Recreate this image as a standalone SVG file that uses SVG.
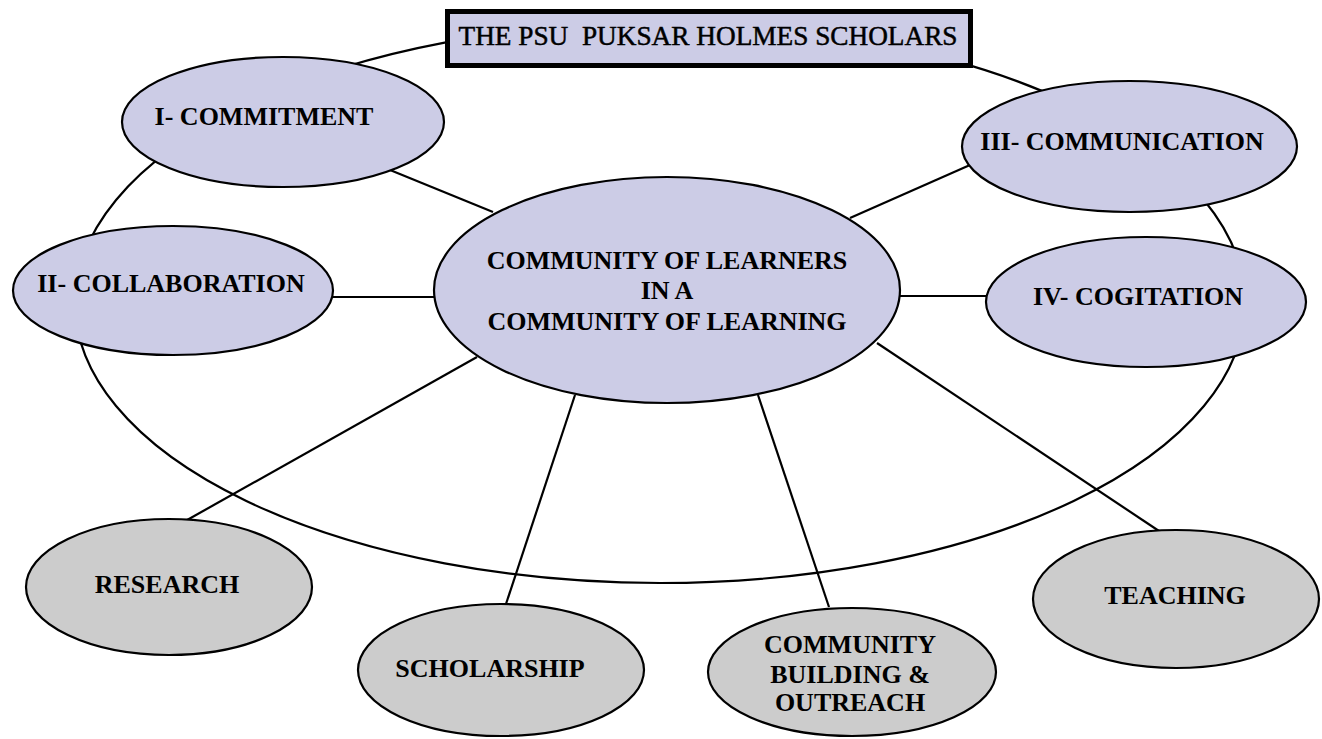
<svg xmlns="http://www.w3.org/2000/svg" width="1322" height="739" viewBox="0 0 1322 739">
<style>
  .lav { fill: #cccce6; stroke: #000; stroke-width: 2.2; }
  .gry { fill: #cccccc; stroke: #000; stroke-width: 2.2; }
  .lbl { font-family: "Liberation Serif", "Times New Roman", serif; font-weight: bold; font-size: 26px; fill: #000; text-anchor: middle; }
  .ttl { font-family: "Liberation Serif", "Times New Roman", serif; font-size: 28px; fill: #000; stroke: #000; stroke-width: 0.5; text-anchor: middle; white-space: pre; }
  .con line, .con ellipse { stroke: #000; stroke-width: 2.2; fill: none; }
</style>
<rect width="1322" height="739" fill="#fff"/>
<g id="connectors" class="con">
  <ellipse cx="660" cy="303" rx="585" ry="280"/>
  <line x1="390" y1="170" x2="493" y2="212"/>
  <line x1="333" y1="297" x2="436" y2="297"/>
  <line x1="850" y1="218" x2="970" y2="165"/>
  <line x1="900" y1="296" x2="986" y2="296"/>
  <line x1="477" y1="357" x2="180" y2="524"/>
  <line x1="575" y1="395" x2="505" y2="607"/>
  <line x1="758" y1="395" x2="829" y2="607"/>
  <line x1="877" y1="343" x2="1165" y2="535"/>
</g>
<g id="title">
  <rect x="447.5" y="11.5" width="523" height="54" fill="#cccce6" stroke="#000" stroke-width="5"/>
  <text class="ttl" x="708" y="45" textLength="499" lengthAdjust="spacingAndGlyphs" xml:space="preserve">THE PSU  PUKSAR HOLMES SCHOLARS</text>
</g>
<g id="center">
  <ellipse class="lav" cx="667" cy="290" rx="233" ry="113"/>
  <text class="lbl" x="667" y="269">COMMUNITY OF LEARNERS</text>
  <text class="lbl" x="667" y="299">IN A</text>
  <text class="lbl" x="667" y="330">COMMUNITY OF LEARNING</text>
</g>
<g id="commitment">
  <ellipse class="lav" cx="283" cy="122" rx="161" ry="65"/>
  <text class="lbl" x="264" y="125">I- COMMITMENT</text>
</g>
<g id="collaboration">
  <ellipse class="lav" cx="173" cy="290.5" rx="160" ry="64.5"/>
  <text class="lbl" x="171" y="292">II- COLLABORATION</text>
</g>
<g id="communication">
  <ellipse class="lav" cx="1129.5" cy="146.5" rx="167.5" ry="65.5"/>
  <text class="lbl" x="1122" y="150">III- COMMUNICATION</text>
</g>
<g id="cogitation">
  <ellipse class="lav" cx="1146" cy="302" rx="160" ry="65"/>
  <text class="lbl" x="1138" y="305">IV- COGITATION</text>
</g>
<g id="research">
  <ellipse class="gry" cx="169" cy="587" rx="143" ry="68"/>
  <text class="lbl" x="167" y="593">RESEARCH</text>
</g>
<g id="scholarship">
  <ellipse class="gry" cx="501" cy="670" rx="143" ry="66"/>
  <text class="lbl" x="490" y="677">SCHOLARSHIP</text>
</g>
<g id="community-building">
  <ellipse class="gry" cx="852" cy="672" rx="144" ry="64"/>
  <text class="lbl" x="850" y="653">COMMUNITY</text>
  <text class="lbl" x="850" y="683">BUILDING &amp;</text>
  <text class="lbl" x="850" y="711">OUTREACH</text>
</g>
<g id="teaching">
  <ellipse class="gry" cx="1176" cy="599" rx="143" ry="69"/>
  <text class="lbl" x="1175" y="604">TEACHING</text>
</g>
</svg>
